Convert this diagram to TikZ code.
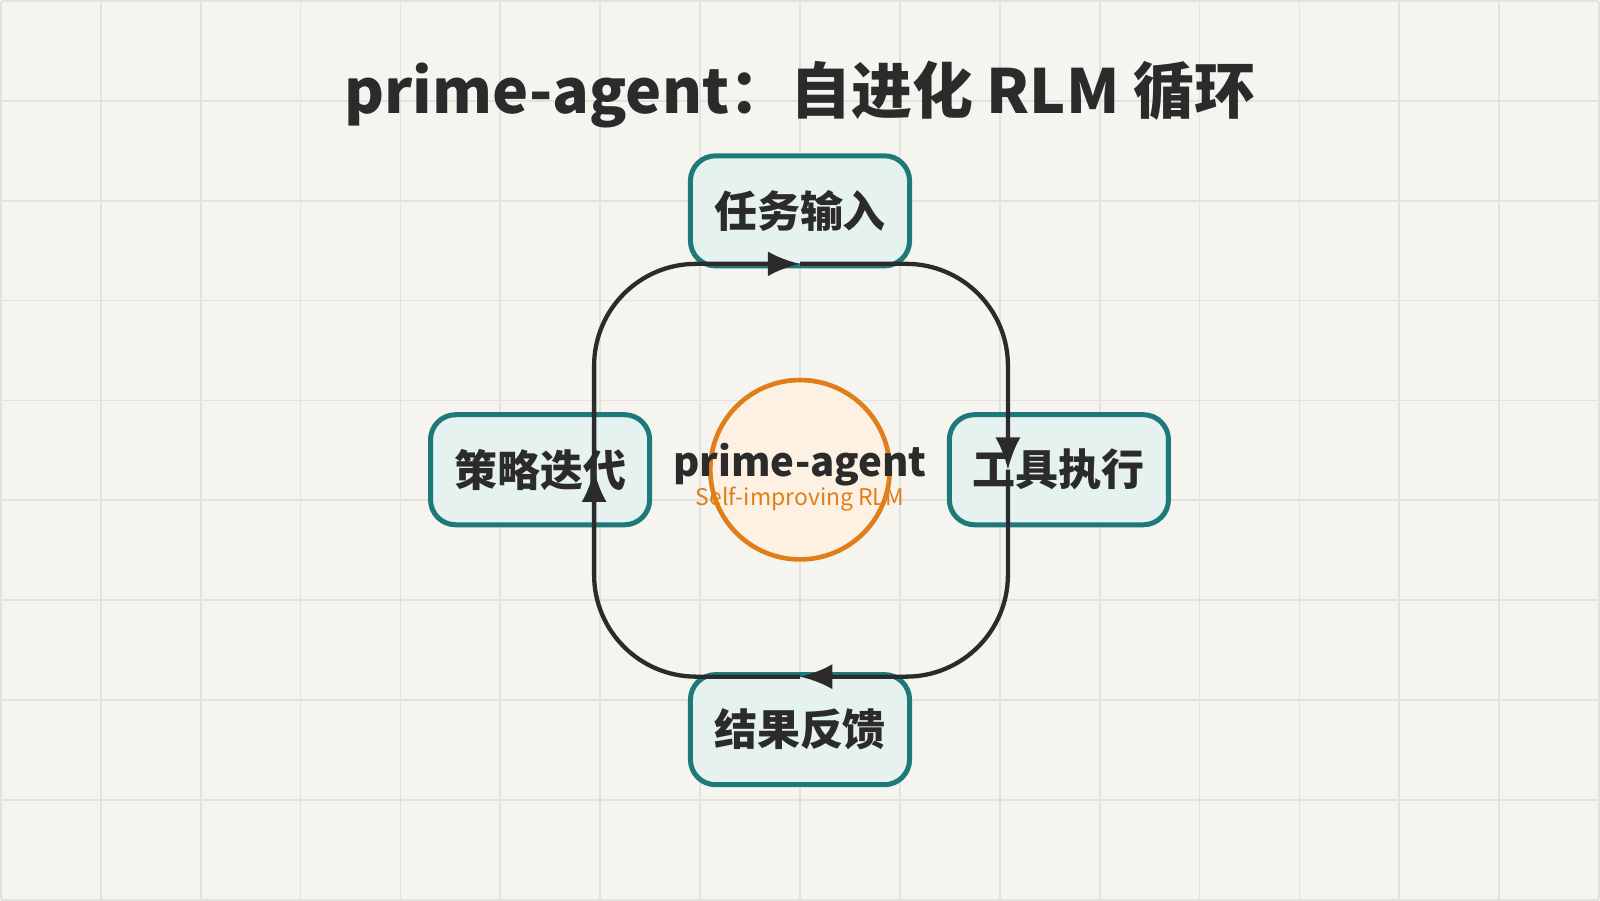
\documentclass[tikz,border=0pt]{standalone}
\usepackage{fontspec}
\setmainfont{Noto Sans CJK SC}
\usetikzlibrary{arrows.meta}
\definecolor{paper}{HTML}{F5F4EF}
\definecolor{gridc}{HTML}{E4E2DC}
\definecolor{boxfill}{HTML}{E6F2F0}
\definecolor{boxline}{HTML}{1E7A7A}
\definecolor{hubfill}{HTML}{FDF1E3}
\definecolor{hubline}{HTML}{E07F1A}
\definecolor{ink}{HTML}{2B2B2B}
\tikzset{
  step box/.style={draw=boxline, fill=boxfill, line width=1.4pt, rounded corners=7pt,
    minimum width=2.15cm, minimum height=1.08cm, font=\fontsize{12}{14}\selectfont\bfseries, text=ink},
  hub/.style={circle, draw=hubline, fill=hubfill, line width=1.3pt, minimum size=1.76cm},
  flow/.style={draw=ink, line width=1.2pt, rounded corners=1cm, -{Latex[length=9pt,width=7pt]}}
}
\begin{document}
\begin{tikzpicture}
  \fill[paper] (0,0) rectangle (15.68,8.82);
  \draw[gridc, line width=0.5pt] (0,0) grid[step=0.98] (15.68,8.82);
  \useasboundingbox (0,0) rectangle (15.68,8.82);

  \node[font=\fontsize{17}{20}\selectfont\bfseries, text=ink] (title) at (7.84,7.9) {prime-agent：自进化 RLM 循环};

  % centre
  \node[hub] (hub) at (7.84,4.22) {};
  \node[font=\fontsize{11.2}{13}\selectfont\bfseries, text=ink] (hubname) at (7.84,4.27) {prime-agent};
  \node[font=\fontsize{6.4}{8}\selectfont, text=hubline] (hubsub) at (7.84,3.93) {Self-improving RLM};

  % steps
  \node[step box] (task) at (7.84,6.76) {任务输入};
  \node[step box] (tool) at (10.38,4.22) {工具执行};
  \node[step box] (result) at (7.84,1.67) {结果反馈};
  \node[step box] (policy) at (5.29,4.22) {策略迭代};

  % loop
  \coordinate (pT) at (7.84,6.24);
  \coordinate (pR) at (9.88,4.22);
  \coordinate (pB) at (7.84,2.19);
  \coordinate (pL) at (5.82,4.22);
  \draw[flow] (pL) |- (pT);
  \draw[flow] (pT) -| (pR);
  \draw[flow] (pR) |- (pB);
  \draw[flow] (pB) -| (pL);
\end{tikzpicture}
\end{document}
